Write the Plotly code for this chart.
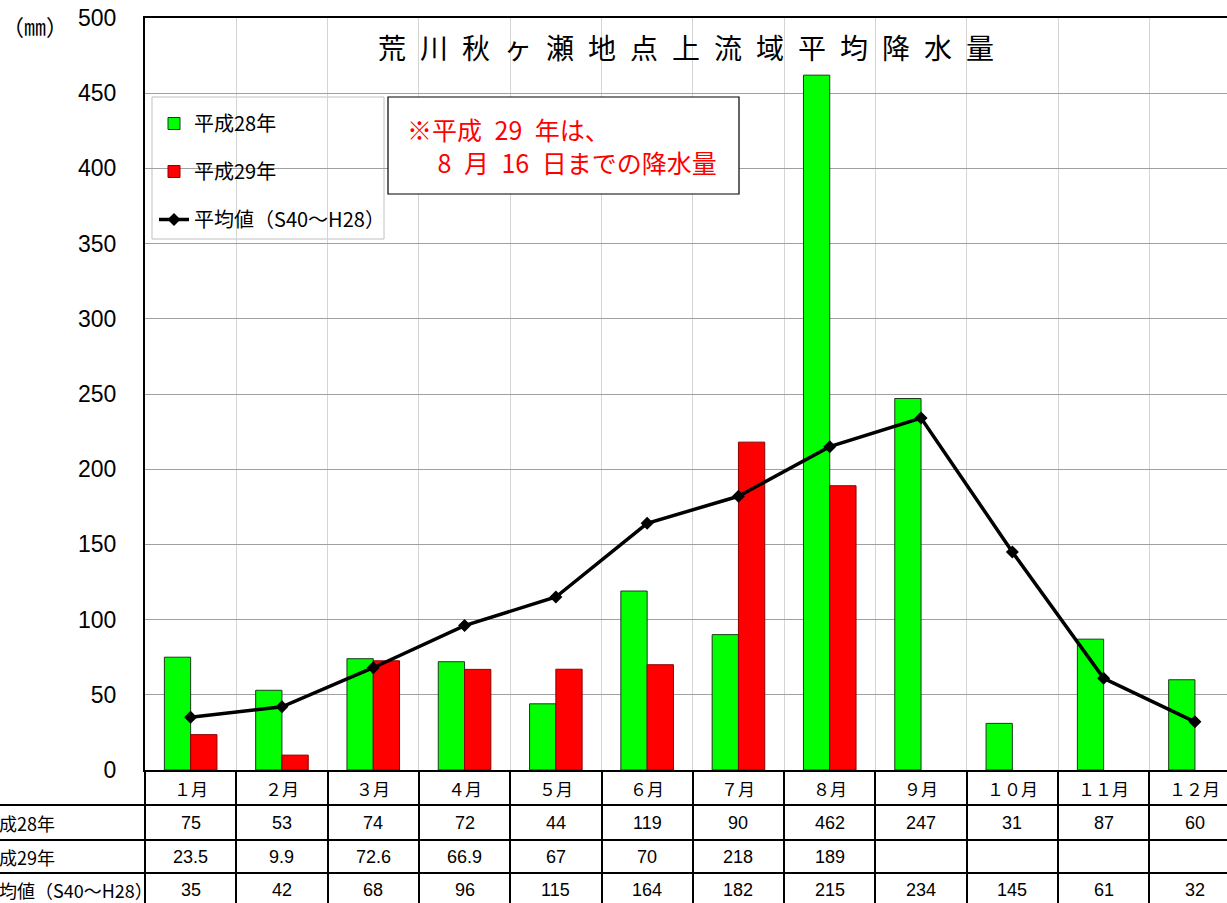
import plotly.graph_objects as go

months = ["１月", "２月", "３月", "４月", "５月", "６月", "７月", "８月", "９月", "１０月", "１１月", "１２月"]
h28 = [75, 53, 74, 72, 44, 119, 90, 462, 247, 31, 87, 60]
h29 = [23.5, 9.9, 72.6, 66.9, 67, 70, 218, 189, None, None, None, None]
avg = [35, 42, 68, 96, 115, 164, 182, 215, 234, 145, 61, 32]
h28_labels = ["75", "53", "74", "72", "44", "119", "90", "462", "247", "31", "87", "60"]
h29_labels = ["23.5", "9.9", "72.6", "66.9", "67", "70", "218", "189", "", "", "", ""]
avg_labels = ["35", "42", "68", "96", "115", "164", "182", "215", "234", "145", "61", "32"]
row_names = ["平成28年", "平成29年", "平均値（S40～H28）"]
title = "荒川秋ヶ瀬地点上流域平均降水量"
note = "※平成\u200229\u2002年は、<br>\u3000 8\u2002月\u200216\u2002日までの降水量"

W, H = 1227, 903
L, T, B = 145, 18, 133
PW, PH = W - L, H - T - B
CW = 91.3
XMAX = -0.5 + PW / CW

JP = "Noto Sans CJK JP"
NUM = "Liberation Sans, Noto Sans CJK JP"

def py(pix):  # pixel y -> paper y
    return (H - B - pix) / PH

def px(pix):
    return (pix - L) / PW

fig = go.Figure()
fig.add_trace(go.Bar(x=months, y=h28, name="平成28年", marker=dict(color="#00ff00", line=dict(color="#1a3a1a", width=1)),
                     legendgroup="a"))
fig.add_trace(go.Bar(x=months, y=h29, name="平成29年", marker=dict(color="#ff0000", line=dict(color="#8b0000", width=1)),
                     legendgroup="b"))
fig.add_trace(go.Scatter(x=months, y=avg, name="平均値（S40～H28）", mode="lines+markers",
                         line=dict(color="black", width=3.5), marker=dict(symbol="diamond", size=10, color="black"),
                         legendgroup="c"))

shapes = []
for yy in [805, 840, 873]:
    shapes.append(dict(type="line", xref="paper", yref="paper", x0=px(0), x1=1, y0=py(yy), y1=py(yy),
                       line=dict(color="black", width=2)))
# legend box
shapes.append(dict(type="rect", xref="paper", yref="paper", x0=px(152), x1=px(384), y0=py(97), y1=py(239),
                   line=dict(color="#c0c0c0", width=1), fillcolor="white", layer="below"))
# note box
shapes.append(dict(type="rect", xref="paper", yref="paper", x0=px(388), x1=px(739), y0=py(97), y1=py(194),
                   line=dict(color="black", width=1.2), fillcolor="white", layer="above"))

ann = []
ann.append(dict(text="\u2002".join(title), xref="paper", yref="paper", x=px(686), y=py(47), showarrow=False,
                font=dict(family=JP, size=28, color="black"), xanchor="center", yanchor="middle"))
ann.append(dict(text=note, xref="paper", yref="paper", x=px(405), y=py(145),
                showarrow=False, align="left", xanchor="left", yanchor="middle",
                font=dict(family=JP, size=25, color="#ff0000")))
ann.append(dict(text="（㎜）", xref="paper", yref="paper", x=px(35), y=py(25), showarrow=False,
                font=dict(family=JP, size=22, color="black"), xanchor="center", yanchor="middle"))
for m in months:
    ann.append(dict(text=m, x=m, xref="x", yref="paper", y=py(788), showarrow=False,
                    font=dict(family=JP, size=17, color="black"), yanchor="middle"))
for labels, yy in [(h28_labels, 823), (h29_labels, 857), (avg_labels, 890)]:
    for m, t in zip(months, labels):
        if t:
            ann.append(dict(text=t, x=m, xref="x", yref="paper", y=py(yy), showarrow=False,
                            font=dict(family=NUM, size=18, color="black"), yanchor="middle"))
for name, yy in zip(row_names, [823, 857, 890]):
    ann.append(dict(text=name, xref="paper", yref="paper", x=px(-21), y=py(yy), showarrow=False,
                    xanchor="left", yanchor="middle", font=dict(family=JP, size=18, color="black")))

fig.update_layout(
    width=W, height=H, margin=dict(l=L, r=0, t=T, b=B, autoexpand=False),
    paper_bgcolor="white", plot_bgcolor="white",
    barmode="group", bargap=0.424, bargroupgap=0,
    showlegend=True,
    legend=dict(x=px(154), y=py(104), xanchor="left", yanchor="top", bgcolor="rgba(0,0,0,0)",
                font=dict(family=JP, size=20, color="black"), traceorder="grouped", tracegroupgap=19,
                itemwidth=30),
    shapes=shapes, annotations=ann,
    xaxis=dict(type="category", range=[-0.5, XMAX], tickson="boundaries", showgrid=True, gridcolor="#d4d4d4",
               gridwidth=1, ticks="outside", ticklen=133, tickwidth=2, tickcolor="black", showticklabels=False,
               showline=True, linecolor="black", linewidth=2, mirror=True, zeroline=False, automargin=False),
    yaxis=dict(range=[0, 500], dtick=50, showgrid=True, gridcolor="#a0a0a0", gridwidth=1, showline=True,
               linecolor="black", linewidth=2, mirror=True, ticks="", ticklabelstandoff=22, automargin=False,
               tickfont=dict(family="Liberation Sans", size=23, color="black"), zeroline=False),
)
fig.write_html("out.html", post_script="document.body.style.margin='0';",
               config={"displayModeBar": False})
